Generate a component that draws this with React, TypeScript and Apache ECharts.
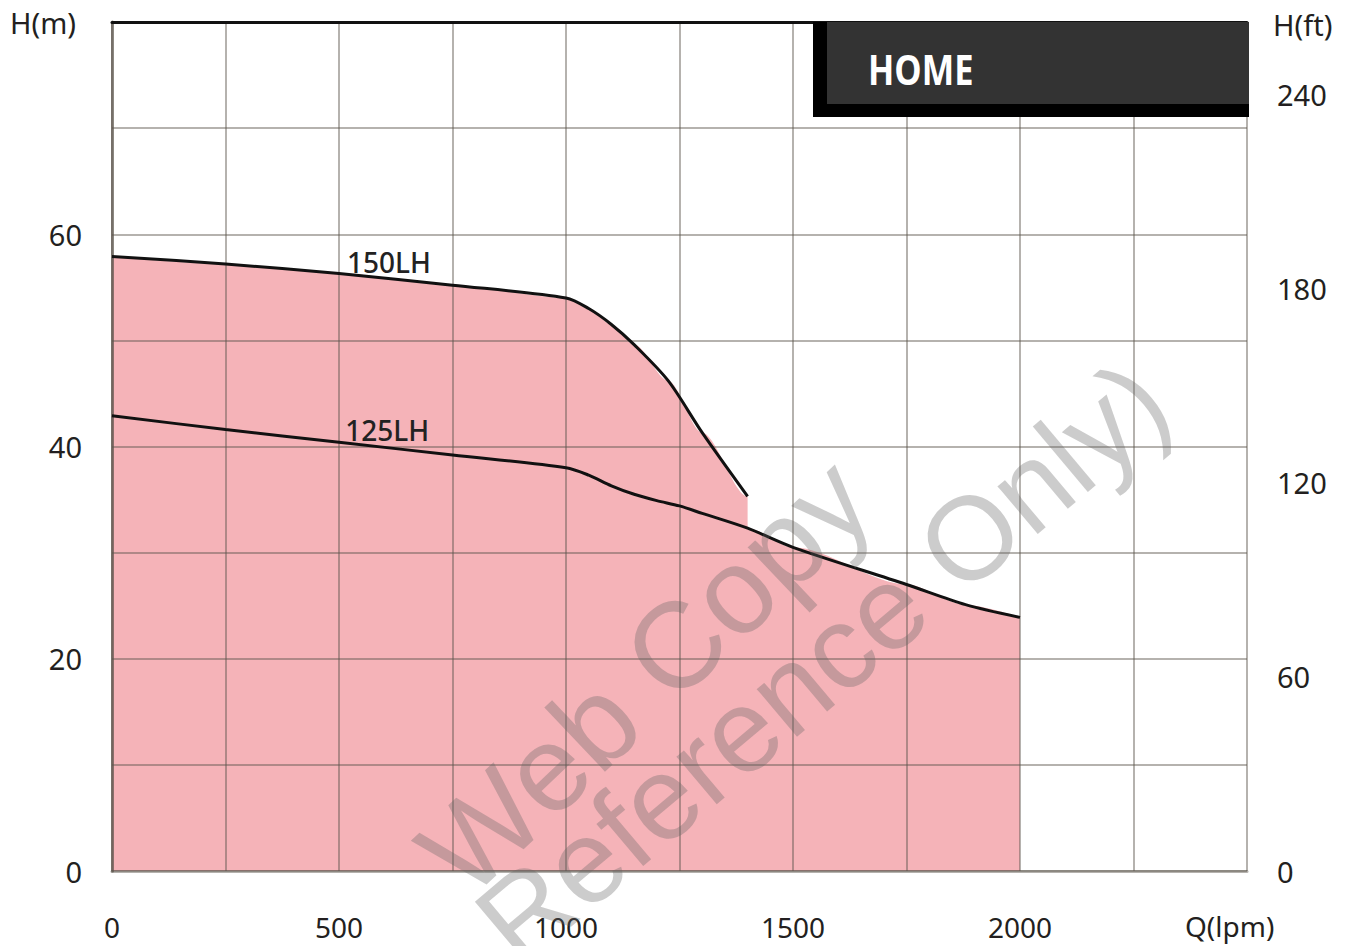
import React, { useEffect, useRef } from "react";
import * as echarts from "echarts";

// Flow Q (lpm) and head H (m) for each pump curve
const Q150 = [0, 250, 500, 750, 1000, 1050, 1100, 1150, 1225, 1300, 1400];
const H150 = [57.9, 57.2, 56.3, 55.2, 54.0, 53.0, 51.5, 49.6, 46.2, 41.3, 35.3];
const Q125 = [0, 250, 500, 750, 1000, 1050, 1100, 1150, 1200, 1250, 1300, 1400, 1500, 1750, 1880, 2000];
const H125 = [42.9, 41.6, 40.4, 39.2, 38.0, 37.3, 36.3, 35.5, 34.9, 34.4, 33.7, 32.3, 30.5, 27.0, 25.1, 23.9];

const X_TICKS = [0, 500, 1000, 1500, 2000];
const LEFT_TICKS = [0, 20, 40, 60];
const RIGHT_TICKS = [0, 60, 120, 180, 240];
const M_TO_FT = 3.28084;
const H_MAX_M = 80;
const Q_MAX = 2500;

const LABEL_150 = { name: "150LH", q: 610, h: 57.4 };
const LABEL_125 = { name: "125LH", q: 606, h: 41.6 };

export default function App() {
  const ref = useRef<HTMLDivElement>(null);
  useEffect(() => {
    document.body.style.margin = "0";
    const chart = echarts.init(ref.current!, null, { renderer: "svg" });
    const font = "'Noto Sans', 'Open Sans', sans-serif";
    const gridColor = "rgba(90,85,75,0.45)";
    const line150 = Q150.map((q, i) => [q, H150[i]]);
    const line125 = Q125.map((q, i) => [q, H125[i]]);
    const lastQ150 = Q150[Q150.length - 1];
    const idx125 = Q125.indexOf(lastQ150);
    const envelope = [
      ...line150,
      [lastQ150, H125[idx125]],
      ...line125.filter((p) => p[0] > lastQ150),
    ];
    const labelStyle = { fontSize: 29, color: "#231f20", fontFamily: font };

    chart.setOption({
      animation: false,
      grid: { left: 112, right: 99, top: 22, bottom: 75, show: false },
      xAxis: [
        {
          type: "value",
          min: 0,
          max: Q_MAX,
          interval: 250,
          z: 3,
          axisLine: { show: true, lineStyle: { color: gridColor, width: 3 } },
          axisTick: { show: false },
          splitLine: { show: true, lineStyle: { color: gridColor, width: 2 } },
          axisLabel: {
            ...labelStyle,
            fontSize: 28,
            lineHeight: 26,
            margin: 43,
            formatter: (v: number) => (X_TICKS.includes(v) ? String(v) : ""),
          },
        },
        {
          type: "value",
          position: "top",
          min: 0,
          max: Q_MAX,
          z: 3,
          axisLine: { show: true, onZero: false, lineStyle: { color: "#111", width: 3 } },
          axisTick: { show: false },
          axisLabel: { show: false },
          splitLine: { show: false },
        },
      ],
      yAxis: [
        {
          type: "value",
          min: 0,
          max: H_MAX_M,
          interval: 10,
          z: 3,
          axisLine: { show: true, lineStyle: { color: gridColor, width: 3 } },
          axisTick: { show: false },
          splitLine: { show: true, lineStyle: { color: gridColor, width: 2 } },
          axisLabel: {
            ...labelStyle,
            margin: 30,
            formatter: (v: number) => (LEFT_TICKS.includes(v) ? String(v) : ""),
          },
        },
        {
          type: "value",
          position: "right",
          min: 0,
          max: H_MAX_M * M_TO_FT,
          interval: 60,
          z: 3,
          axisLine: { show: true, lineStyle: { color: gridColor, width: 3 } },
          axisTick: { show: false },
          splitLine: { show: false },
          axisLabel: {
            ...labelStyle,
            margin: 30,
            showMaxLabel: false,
            formatter: (v: number) => (RIGHT_TICKS.includes(v) ? String(v) : ""),
          },
        },
      ],
      series: [
        {
          type: "line",
          name: "area",
          data: envelope,
          symbol: "none",
          smooth: 0.3,
          smoothMonotone: "x",
          z: 1,
          lineStyle: { width: 0, opacity: 0 },
          areaStyle: { color: "#f5b3b8", opacity: 1 },
          silent: true,
        },
        {
          type: "line",
          name: "150LH",
          data: line150,
          symbol: "none",
          smooth: 0.3,
          z: 5,
          lineStyle: { color: "#111", width: 3 },
          markPoint: {
            symbol: "circle",
            symbolSize: 0,
            data: [{ coord: [LABEL_150.q, LABEL_150.h] }],
            label: {
              show: true,
              position: "inside",
              formatter: LABEL_150.name,
              fontSize: 28,
              fontFamily: font,
              fontWeight: 500,
              color: "#222",
            },
          },
        },
        {
          type: "line",
          name: "125LH",
          data: line125,
          symbol: "none",
          smooth: 0.3,
          z: 5,
          lineStyle: { color: "#111", width: 3 },
          markPoint: {
            symbol: "circle",
            symbolSize: 0,
            data: [{ coord: [LABEL_125.q, LABEL_125.h] }],
            label: {
              show: true,
              position: "inside",
              formatter: LABEL_125.name,
              fontSize: 28,
              fontFamily: font,
              fontWeight: 500,
              color: "#222",
            },
          },
        },
      ],
      graphic: [
        { type: "rect", z: 20, shape: { x: 813, y: 22, width: 436, height: 95 }, style: { fill: "#000" } },
        { type: "rect", z: 21, shape: { x: 827, y: 22, width: 422, height: 82 }, style: { fill: "#333333" } },
        {
          type: "text",
          z: 22,
          x: 868,
          y: 69,
          scaleX: 0.84,
          style: {
            text: "HOME",
            fill: "#fff",
            fontSize: 41,
            fontWeight: "bold",
            fontFamily: "'Open Sans', 'Noto Sans', sans-serif",
            verticalAlign: "middle",
            align: "left",
          },
        },
        {
          type: "text",
          z: 22,
          x: 10,
          y: 22,
          style: { text: "H(m)", fill: "#231f20", fontSize: 29, fontFamily: font, verticalAlign: "middle", align: "left" },
        },
        {
          type: "text",
          z: 22,
          x: 1273,
          y: 24,
          style: { text: "H(ft)", fill: "#231f20", fontSize: 29, fontFamily: font, verticalAlign: "middle", align: "left" },
        },
        {
          type: "text",
          z: 22,
          x: 1185,
          y: 926,
          style: {
            text: "Q(lpm)",
            fill: "#231f20",
            fontSize: 28,
            lineHeight: 26,
            fontFamily: font,
            verticalAlign: "middle",
            align: "left",
          },
        },
        {
          type: "text",
          z: 30,
          x: 645,
          y: 676,
          rotation: 0.76,
          silent: true,
          style: {
            text: "Web Copy",
            fill: "rgba(100,100,100,0.33)",
            fontSize: 122,
            fontFamily: "'Liberation Sans', Arial, sans-serif",
            verticalAlign: "middle",
            align: "center",
          },
        },
        {
          type: "text",
          z: 30,
          x: 822,
          y: 662,
          rotation: 0.7,
          silent: true,
          style: {
            text: "Reference Only)",
            fill: "rgba(100,100,100,0.33)",
            fontSize: 118,
            fontFamily: "'Liberation Sans', Arial, sans-serif",
            verticalAlign: "middle",
            align: "center",
          },
        },
      ],
    });
    return () => chart.dispose();
  }, []);
  return <div ref={ref} style={{ width: 1346, height: 946 }} />;
}
